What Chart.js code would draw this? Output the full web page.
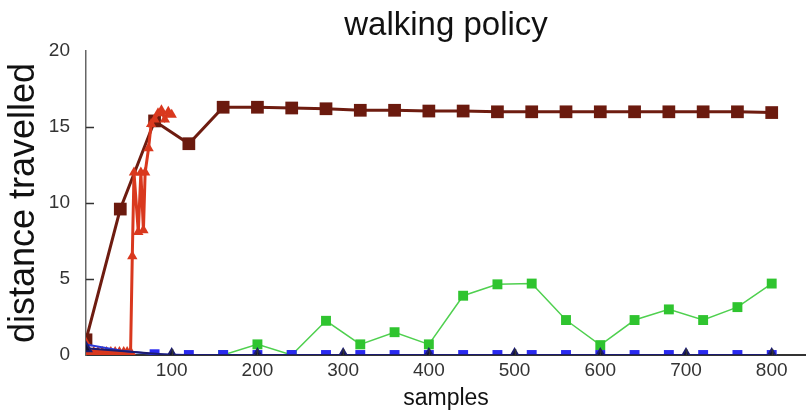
<!DOCTYPE html>
<html>
<head>
<meta charset="utf-8">
<script src="https://cdn.jsdelivr.net/npm/chart.js@4"></script>
<style>
  body { margin: 0; background: #fff; }
  #wrap { width: 806px; height: 414px; }
</style>
</head>
<body>
<div id="wrap"><canvas id="c"></canvas></div>
<script>
// === DATA ===
var xTicks = [100, 200, 300, 400, 500, 600, 700, 800];
var yTicks = [0, 5, 10, 15, 20];

// dark red squares (every 40 samples)
var darkX = [0, 40, 80, 120, 160, 200, 240, 280, 320, 360, 400, 440, 480, 520, 560, 600, 640, 680, 720, 760, 800];
var darkY = [1.0, 9.6, 15.4, 13.9, 16.3, 16.3, 16.25, 16.2, 16.1, 16.1, 16.05, 16.05, 16.0, 16.0, 16.0, 16.0, 16.0, 16.0, 16.0, 16.0, 15.95];

// red triangles (early, dense)
var redX = [0, 4, 9, 14, 19, 24, 29, 34, 39, 44, 48, 52, 54, 56, 61, 64, 67, 69, 73, 76, 80, 84, 88, 92, 96, 100];
var redY = [0.8, 0.2, 0.2, 0.2, 0.2, 0.2, 0.2, 0.2, 0.2, 0.2, 0.2, 0.2, 6.5, 12.0, 8.1, 12.0, 8.2, 12.0, 13.6, 15.2, 15.5, 15.9, 16.1, 15.5, 16.0, 15.8];

// green squares
var greenX = [160, 200, 240, 280, 320, 360, 400, 440, 480, 520, 560, 600, 640, 680, 720, 760, 800];
var greenY = [0, 0.7, 0, 2.25, 0.7, 1.5, 0.7, 3.9, 4.65, 4.7, 2.3, 0.65, 2.3, 3.0, 2.3, 3.15, 4.7];

// blue squares
var blueX = [0, 40, 80, 120, 160, 200, 240, 280, 320, 360, 400, 440, 480, 520, 560, 600, 640, 680, 720, 760, 800];
var blueY = [0.7, 0.3, 0.05, 0, 0, 0, 0, 0, 0, 0, 0, 0, 0, 0, 0, 0, 0, 0, 0, 0, 0];

// navy triangles (every 100 samples)
var navyX = [0, 100, 200, 300, 400, 500, 600, 700, 800];
var navyY = [0.45, 0, 0, 0, 0, 0, 0, 0, 0];

function pts(xs, ys) {
  return xs.map(function(x, i) { return { x: x, y: ys[i] }; });
}

// inward tick marks on both axes
var inwardTicks = {
  id: 'inwardTicks',
  afterDraw: function(chart) {
    var ctx = chart.ctx, x = chart.scales.x, y = chart.scales.y;
    ctx.save();
    ctx.strokeStyle = '#333';
    ctx.lineWidth = 1.5;
    ctx.beginPath();
    yTicks.forEach(function(v) {
      if (v === 0 || v === 20) return;
      var py = Math.round(y.getPixelForValue(v)) + 0.5;
      ctx.moveTo(x.left, py); ctx.lineTo(x.left + 8, py);
    });
    xTicks.forEach(function(v) {
      var px = Math.round(x.getPixelForValue(v)) + 0.5;
      ctx.moveTo(px, y.bottom); ctx.lineTo(px, y.bottom - 6);
    });
    ctx.stroke();
    ctx.restore();
  }
};

var font = "'Liberation Sans', Arial, sans-serif";

new Chart(document.getElementById('c').getContext('2d'), {
  type: 'line',
  data: {
    datasets: [{
      label: 'navy', data: pts(navyX, navyY),
      borderColor: '#1c1c70', backgroundColor: '#111133',
      borderWidth: 2, pointStyle: 'triangle', pointRadius: 6, tension: 0
    }, {
      label: 'blue', data: pts(blueX, blueY),
      borderColor: '#2a3ad8', backgroundColor: '#2a2af0',
      borderWidth: 2, pointStyle: 'rect', pointBorderWidth: 0, tension: 0,
      pointRadius: function(c) { return c.raw && c.raw.x < 80 ? 0 : 7; }
    }, {
      label: 'green', data: pts(greenX, greenY),
      borderColor: '#4fd04f', backgroundColor: '#2fc42f',
      borderWidth: 1.5, pointStyle: 'rect', pointRadius: 7, pointBorderWidth: 0, tension: 0
    }, {
      label: 'red', data: pts(redX, redY),
      borderColor: '#d9381e', backgroundColor: '#d9381e',
      borderWidth: 3, pointStyle: 'triangle', pointRadius: 6, pointBorderWidth: 0, tension: 0
    }, {
      label: 'darkred', data: pts(darkX, darkY),
      borderColor: '#6e1c10', backgroundColor: '#6b1a0e',
      borderWidth: 3, pointStyle: 'rect', pointRadius: 9, pointBorderWidth: 0, tension: 0
    }]
  },
  options: {
    responsive: true, maintainAspectRatio: false, animation: false,
    layout: { padding: 0, autoPadding: false },
    plugins: {
      legend: { display: false },
      tooltip: { enabled: false },
      title: {
        display: true, text: 'walking policy', fullSize: false, color: '#111',
        font: { family: font, size: 33, weight: 'normal', lineHeight: 1.2 },
        padding: { top: 6, bottom: 5.4 }
      }
    },
    scales: {
      x: {
        type: 'linear', min: 0, max: 840,
        afterFit: function(s) { s.height = 59; },
        afterBuildTicks: function(s) { s.ticks = xTicks.map(function(v) { return { value: v }; }); },
        grid: { display: false, drawTicks: false },
        border: { color: '#333', width: 2 },
        ticks: { color: '#333', padding: 4, maxRotation: 0, font: { family: font, size: 19 } },
        title: {
          display: true, text: 'samples', color: '#111',
          font: { family: font, size: 23, lineHeight: 1.2 },
          padding: { top: 0, bottom: 2 }
        }
      },
      y: {
        min: 0, max: 20,
        afterFit: function(s) { s.width = 86; },
        afterBuildTicks: function(s) { s.ticks = yTicks.map(function(v) { return { value: v }; }); },
        grid: { display: false, drawTicks: false },
        border: { color: '#666', width: 1.5 },
        ticks: { color: '#333', padding: 16, font: { family: font, size: 19 } },
        title: {
          display: true, text: 'distance travelled', color: '#111',
          font: { family: font, size: 36, lineHeight: 1.2 },
          padding: { top: 2, bottom: 0 }
        }
      }
    }
  },
  plugins: [inwardTicks]
});
</script>
</body>
</html>
